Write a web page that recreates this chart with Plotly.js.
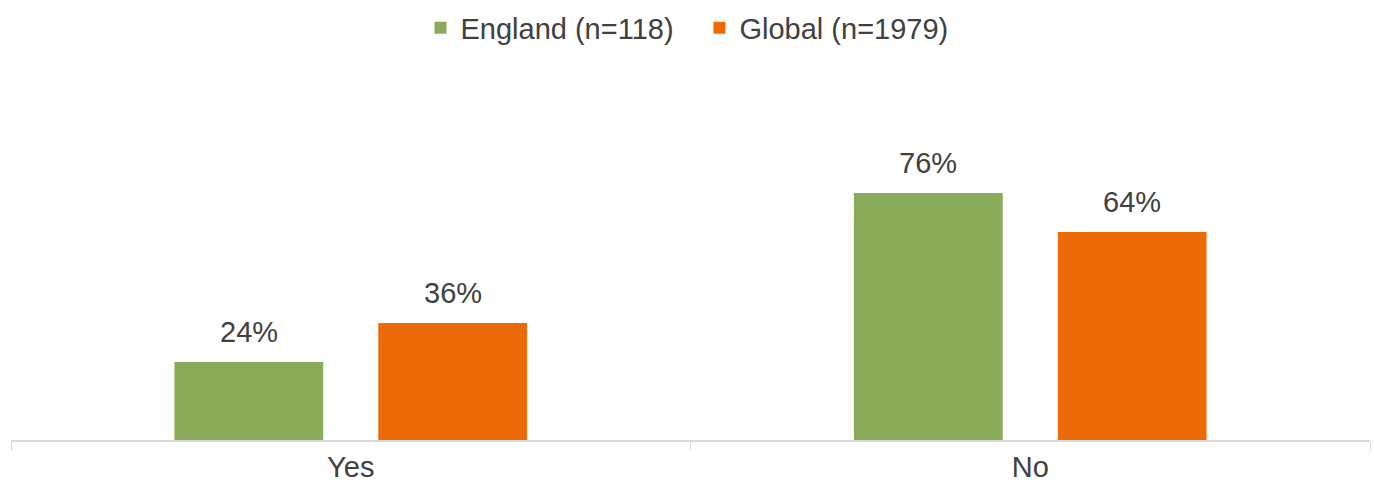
<!DOCTYPE html>
<html>
<head>
<meta charset="utf-8">
<script src="https://cdn.plot.ly/plotly-3.0.1.min.js"></script>
<style>
  html, body { margin: 0; padding: 0; background: #fff; }
  #chart { width: 1374px; height: 485px; }
</style>
</head>
<body>
<div id="chart"></div>
<script>
// survey answers
const categories = ["Yes", "No"];
const englandValues = [24, 76];
const globalValues = [36, 64];
const seriesNames = ["England (n=118)", "Global (n=1979)"];
const seriesColors = ["#8aab5a", "#ec6a08"];

const labelFont = { family: "Liberation Sans, Arial, sans-serif", size: 29, color: "#404040" };

const traces = [
  {
    type: "bar",
    name: seriesNames[0],
    x: categories,
    y: englandValues,
    marker: { color: seriesColors[0] },
    hoverinfo: "none"
  },
  {
    type: "bar",
    name: seriesNames[1],
    x: categories,
    y: globalValues,
    marker: { color: seriesColors[1] },
    hoverinfo: "none"
  }
];

// value labels sit a bit higher than plotly's own outside text
const annotations = [];
[englandValues, globalValues].forEach(function (vals, s) {
  vals.forEach(function (v, i) {
    annotations.push({
      xref: "x",
      yref: "y",
      x: categories[i],
      y: v,
      xshift: s === 0 ? -102 : 102,
      yshift: 12,
      yanchor: "bottom",
      text: v + "%",
      showarrow: false,
      font: labelFont
    });
  });
});

const layout = {
  width: 1374,
  height: 485,
  margin: { l: 11, r: 4, t: 100, b: 45 },
  paper_bgcolor: "#fff",
  plot_bgcolor: "#fff",
  font: labelFont,
  barmode: "group",
  bargap: 0.4,
  bargroupgap: 0.27,
  showlegend: true,
  legend: {
    orientation: "h",
    x: 0.5066,
    xanchor: "center",
    y: 0.995,
    yref: "container",
    yanchor: "top",
    entrywidth: 234,
    font: labelFont,
    itemclick: false
  },
  annotations: annotations,
  xaxis: {
    showline: true,
    linecolor: "#d9d9d9",
    linewidth: 1.5,
    ticks: "outside",
    tickson: "boundaries",
    ticklen: 9,
    tickcolor: "#d9d9d9",
    ticklabelstandoff: 1,
    showgrid: false,
    automargin: false,
    tickfont: labelFont
  },
  yaxis: {
    range: [0, 104.6],
    visible: false,
    showgrid: false,
    zeroline: false
  }
};

Plotly.newPlot("chart", traces, layout, { displayModeBar: false, staticPlot: true });
</script>
</body>
</html>
